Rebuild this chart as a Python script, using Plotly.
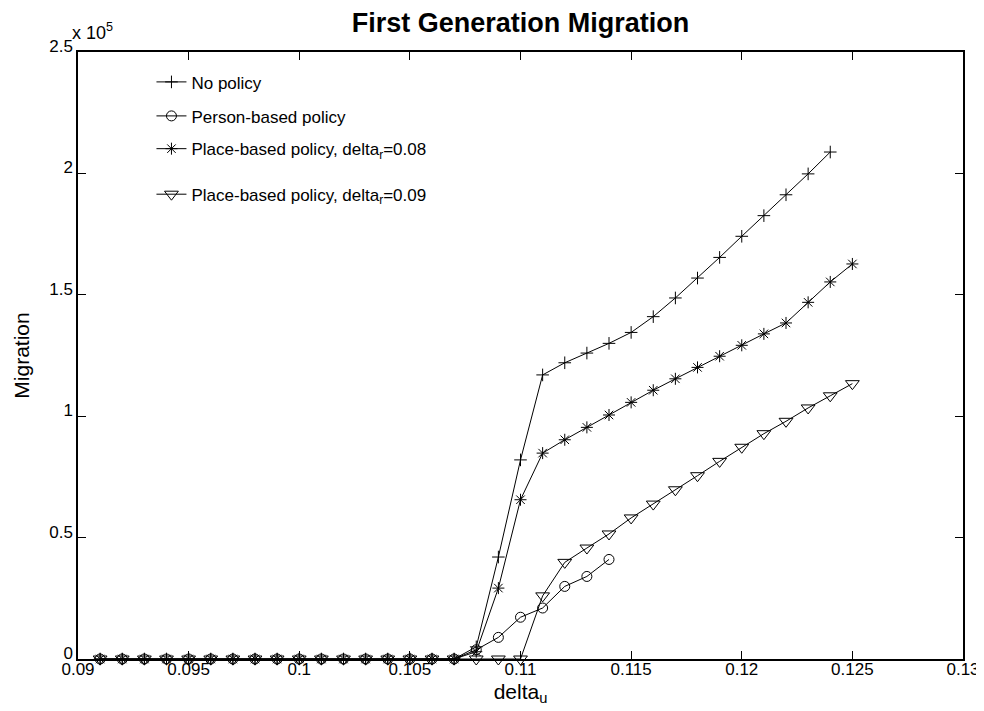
import plotly.graph_objects as go

# delta_u grid
delta_u = [0.091, 0.092, 0.093, 0.094, 0.095, 0.096, 0.097, 0.098, 0.099, 0.100,
           0.101, 0.102, 0.103, 0.104, 0.105, 0.106, 0.107, 0.108, 0.109, 0.110,
           0.111, 0.112, 0.113, 0.114, 0.115, 0.116, 0.117, 0.118, 0.119, 0.120,
           0.121, 0.122, 0.123, 0.124, 0.125]

# migration, in units of 1e5
no_policy = [0, 0, 0, 0, 0, 0, 0, 0, 0, 0, 0, 0, 0, 0, 0, 0, 0,
             0.05, 0.42, 0.82, 1.17, 1.22, 1.26, 1.30, 1.345, 1.41, 1.487,
             1.569, 1.654, 1.741, 1.826, 1.912, 1.998, 2.088]
person_based = [0, 0, 0, 0, 0, 0, 0, 0, 0, 0, 0, 0, 0, 0, 0, 0, 0,
                0.038, 0.089, 0.172, 0.21, 0.299, 0.34, 0.41]
place_008 = [0, 0, 0, 0, 0, 0, 0, 0, 0, 0, 0, 0, 0, 0, 0, 0, 0,
             0.03, 0.292, 0.656, 0.848, 0.903, 0.954, 1.005, 1.057, 1.107, 1.154,
             1.201, 1.247, 1.292, 1.339, 1.384, 1.469, 1.553, 1.627]
place_009 = [0, 0, 0, 0, 0, 0, 0, 0, 0, 0, 0, 0, 0, 0, 0, 0, 0, 0, 0, 0,
             0.26, 0.398, 0.457, 0.515, 0.581, 0.638, 0.697, 0.755, 0.814, 0.872,
             0.928, 0.979, 1.034, 1.084, 1.134]

x_ticks = [0.09, 0.095, 0.1, 0.105, 0.11, 0.115, 0.12, 0.125, 0.13]
x_ticktext = ['0.09', '0.095', '0.1', '0.105', '0.11', '0.115', '0.12', '0.125', '0.13']
y_ticks = [0, 0.5, 1, 1.5, 2, 2.5]
y_ticktext = ['0', '0.5', '1', '1.5', '2', '2.5']

FONT = 'Arial, Liberation Sans, sans-serif'

# name, values, marker, size, legend id, legend row (paper y)
series = [
    ('No policy', no_policy, 'cross-thin-open', 9, 'legend', 0.950),
    ('Person-based policy', person_based, 'circle-open', 10, 'legend2', 0.894),
    ('Place-based policy, delta<sub>r</sub>=0.08', place_008, 'asterisk-open', 10, 'legend3', 0.840),
    ('Place-based policy, delta<sub>r</sub>=0.09', place_009, 'triangle-down-open', 12, 'legend4', 0.765),
]

fig = go.Figure()
legends = {}
for name, vals, sym, size, leg, ly in series:
    fig.add_trace(go.Scatter(
        x=delta_u[:len(vals)],
        y=vals,
        mode='lines+markers',
        name=name,
        legend=leg,
        line=dict(color='black', width=1),
        marker=dict(symbol=sym, size=size, color='black', line=dict(color='black', width=1)),
        cliponaxis=False
    ))
    legends[leg] = dict(x=0.083, y=ly, xanchor='left', yanchor='middle',
                        bgcolor='rgba(0,0,0,0)', borderwidth=0,
                        font=dict(family=FONT, size=17, color='black'))

axis_common = dict(
    showline=True, linecolor='black', linewidth=1.5, mirror='ticks',
    ticks='inside', ticklen=8, tickcolor='black', tickwidth=1,
    showgrid=False, zeroline=False,
    tickfont=dict(family=FONT, size=17, color='black')
)

fig.update_xaxes(range=[0.09, 0.13], tickvals=x_ticks, ticktext=x_ticktext,
                 ticklabelstandoff=-6,
                 title=dict(text='delta<sub>u</sub>', font=dict(family=FONT, size=21, color='black'), standoff=6),
                 **axis_common)
fig.update_yaxes(range=[0, 2.5], tickvals=y_ticks, ticktext=y_ticktext,
                 ticklabelshift=-6,
                 title=dict(text='Migration', font=dict(family=FONT, size=21, color='black'), standoff=14),
                 **axis_common)

fig.add_annotation(text='x 10<sup>5</sup>', xref='paper', yref='paper', x=0, y=1,
                   xanchor='left', yanchor='bottom', showarrow=False,
                   xshift=-8, yshift=7,
                   font=dict(family=FONT, size=18, color='black'))

fig.update_layout(
    title=dict(text='<b>First Generation Migration</b>', x=0.5, xref='paper',
               y=0.993, yref='container', yanchor='top',
               font=dict(family=FONT, size=27, color='black')),
    width=984, height=711,
    margin=dict(l=70, r=22, t=44, b=60),
    paper_bgcolor='white', plot_bgcolor='white',
    showlegend=True,
    **legends
)

fig.write_html('out.html')
